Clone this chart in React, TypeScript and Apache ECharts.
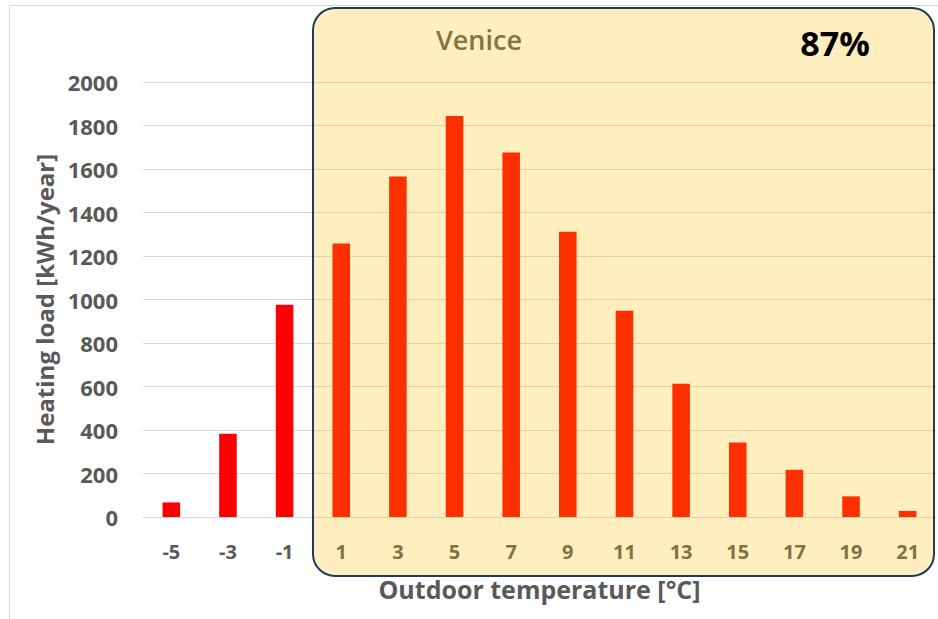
import React, { useEffect, useRef } from "react";
import * as echarts from "echarts";

const categories = ["-5", "-3", "-1", "1", "3", "5", "7", "9", "11", "13", "15", "17", "19", "21"];
const heatingLoad = [67, 383, 976, 1257, 1565, 1844, 1676, 1312, 948, 613, 342, 217, 95, 28];
const yTicks = { min: 0, max: 2000, interval: 200 };
const title = "Venice";
const share = "87%";

export default function App() {
  const ref = useRef<HTMLDivElement>(null);
  useEffect(() => {
    if (!ref.current) return;
    const chart = echarts.init(ref.current, undefined, { renderer: "svg" });
    const gray = "#595959";
    const font = "Open Sans";
    chart.setOption({
      animation: false,
      backgroundColor: "#ffffff",
      grid: { left: 143, right: 2, top: 82, bottom: 102, containLabel: false },
      xAxis: {
        type: "category",
        data: categories,
        axisLine: { show: true, lineStyle: { color: "#D9D9D9", width: 1 } },
        axisTick: { show: false },
        axisLabel: { color: gray, fontFamily: font, fontWeight: "bold", fontSize: 20, margin: 24 },
        name: "Outdoor temperature [°C]",
        nameLocation: "middle",
        nameGap: 59,
        nameTextStyle: { color: gray, fontFamily: font, fontWeight: "bold", fontSize: 25 },
      },
      yAxis: {
        type: "value",
        min: yTicks.min,
        max: yTicks.max,
        interval: yTicks.interval,
        axisLine: { show: false },
        axisTick: { show: false },
        splitLine: { lineStyle: { color: "#D9D9D9", width: 1 } },
        axisLabel: {
          color: gray,
          fontFamily: font,
          fontWeight: "bold",
          fontSize: 22,
          margin: 25,
          formatter: (v: number) => String(v),
        },
        name: "Heating load [kWh/year]",
        nameLocation: "middle",
        nameGap: 87,
        nameRotate: 90,
        nameTextStyle: { color: gray, fontFamily: font, fontWeight: "bold", fontSize: 24 },
      },
      series: [
        {
          type: "bar",
          data: heatingLoad,
          barWidth: "31%",
          itemStyle: { color: "#FF0000" },
        },
      ],
      graphic: [
        {
          type: "rect",
          z: 1,
          silent: true,
          shape: { x: 9.5, y: 5.5, width: 960, height: 640 },
          style: { fill: "none", stroke: "#D9D9D9", lineWidth: 1 },
        },
        {
          type: "rect",
          z: 100,
          silent: true,
          shape: { x: 313, y: 8, width: 621, height: 568, r: 22 },
          style: { fill: "rgba(255,192,0,0.25)", stroke: "#1F3A5F", lineWidth: 2 },
        },
        {
          type: "text",
          z: 101,
          x: 479,
          y: 39,
          style: {
            text: title,
            fill: "#847442",
            font: "600 27px 'Open Sans'",
            align: "center",
            verticalAlign: "middle",
          },
        },
        {
          type: "text",
          z: 101,
          x: 835,
          y: 43,
          style: {
            text: share,
            fill: "#000000",
            font: "bold 34px 'Open Sans'",
            align: "center",
            verticalAlign: "middle",
          },
        },
      ],
    });
    return () => chart.dispose();
  }, []);
  return <div ref={ref} style={{ position: "fixed", left: 0, top: 0, width: 938, height: 619 }} />;
}
